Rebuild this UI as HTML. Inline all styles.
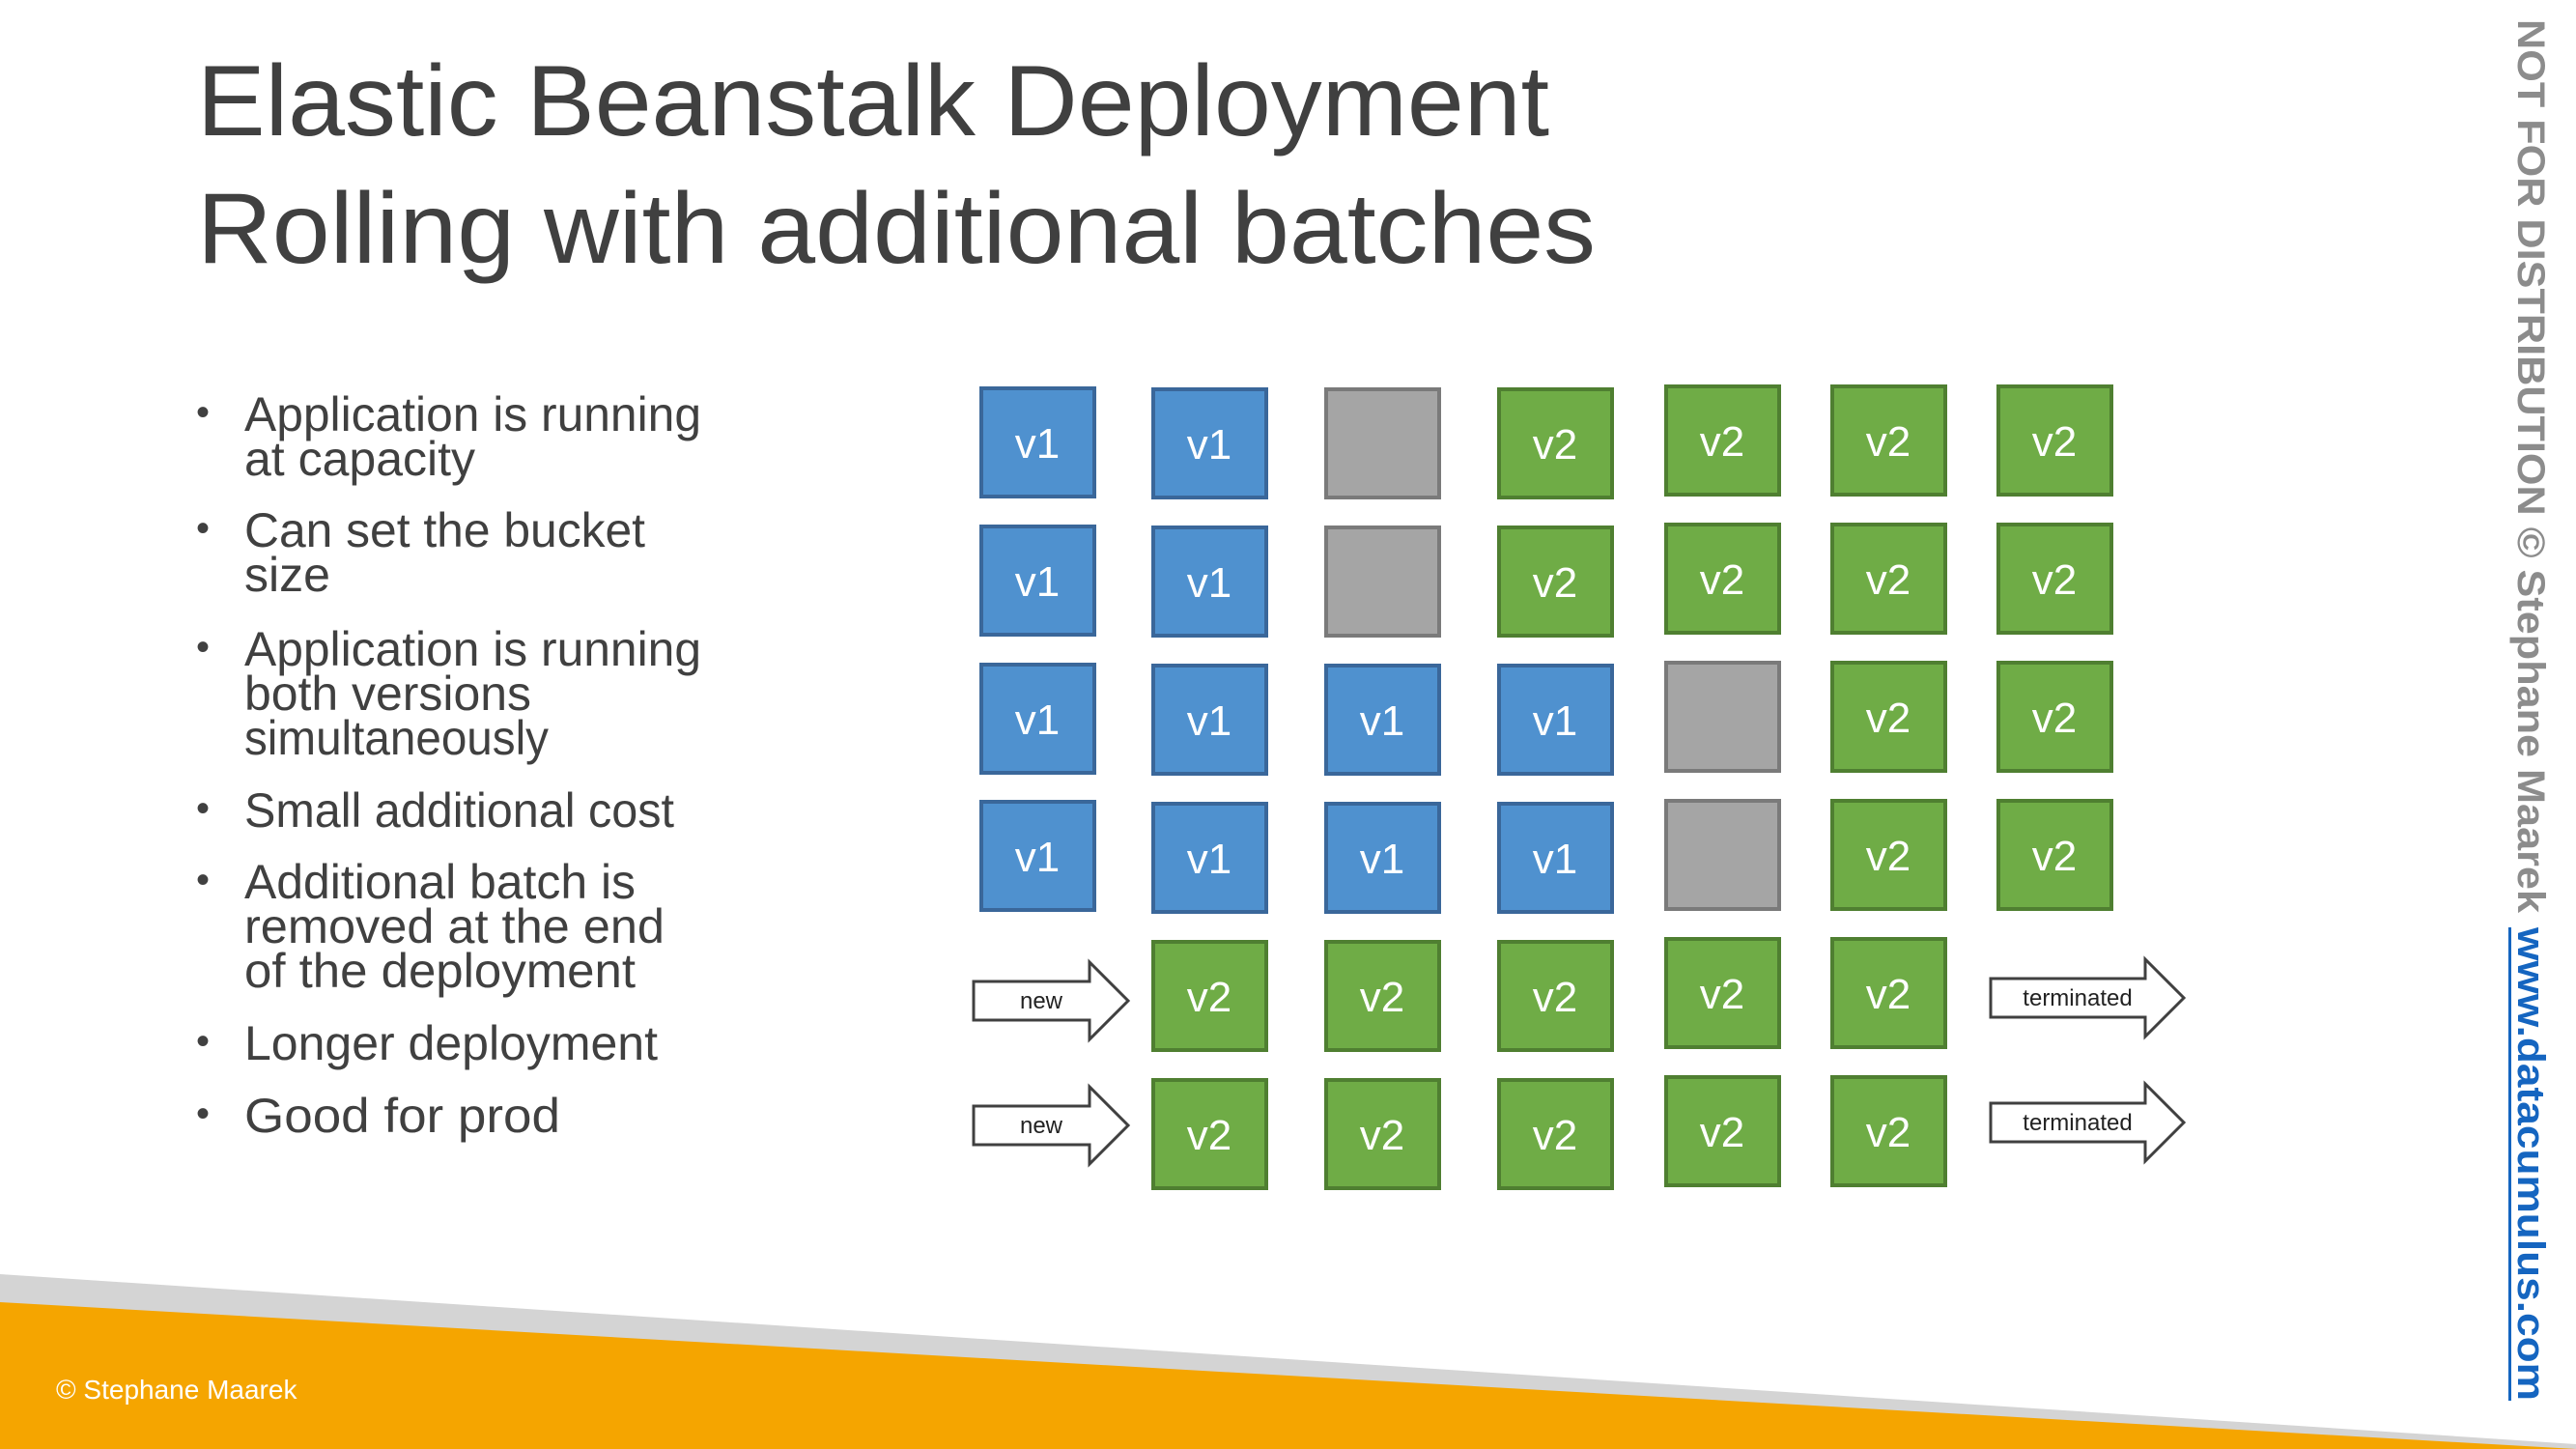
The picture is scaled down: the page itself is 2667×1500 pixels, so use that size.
<!DOCTYPE html>
<html><head><meta charset="utf-8"><style>
html,body{margin:0;padding:0;background:#fff}
svg{display:block}
</style></head><body>
<svg width="2667" height="1500" viewBox="0 0 2667 1500" xmlns="http://www.w3.org/2000/svg" font-family="Liberation Sans, sans-serif">
<rect width="2667" height="1500" fill="#fff"/>
<polygon points="0,1319 2667,1495 2667,1500 0,1500" fill="#d4d4d4"/>
<polygon points="0,1348 2667,1500 0,1500" fill="#f5a500"/>
<text x="58" y="1448" font-size="28" fill="#fff">© Stephane Maarek</text>

<g fill="#404040" font-size="104">
<text x="204" y="140" textLength="1400" lengthAdjust="spacingAndGlyphs">Elastic Beanstalk Deployment</text>
<text x="204" y="272" textLength="1448" lengthAdjust="spacingAndGlyphs">Rolling with additional batches</text>
</g>

<g fill="#404040" font-size="50">
<g font-size="40"><text x="203" y="440">•</text><text x="203" y="560">•</text><text x="203" y="683">•</text><text x="203" y="850">•</text><text x="203" y="924">•</text><text x="203" y="1091">•</text><text x="203" y="1166">•</text></g>
<text x="253" y="446" textLength="473" lengthAdjust="spacingAndGlyphs">Application is running</text>
<text x="253" y="492">at  capacity</text>
<text x="253" y="566" textLength="415" lengthAdjust="spacingAndGlyphs">Can set the bucket</text>
<text x="253" y="612">size</text>
<text x="253" y="689" textLength="473" lengthAdjust="spacingAndGlyphs">Application is running</text>
<text x="253" y="735" textLength="297" lengthAdjust="spacingAndGlyphs">both versions</text>
<text x="253" y="781" textLength="315" lengthAdjust="spacingAndGlyphs">simultaneously</text>
<text x="253" y="856" textLength="445" lengthAdjust="spacingAndGlyphs">Small additional cost</text>
<text x="253" y="930" textLength="405" lengthAdjust="spacingAndGlyphs">Additional batch is</text>
<text x="253" y="976" textLength="435" lengthAdjust="spacingAndGlyphs">removed at the end</text>
<text x="253" y="1022" textLength="405" lengthAdjust="spacingAndGlyphs">of the deployment</text>
<text x="253" y="1097" textLength="428" lengthAdjust="spacingAndGlyphs">Longer deployment</text>
<text x="253" y="1172" textLength="327" lengthAdjust="spacingAndGlyphs">Good for prod</text>
</g>

<defs>
<g id="b"><rect x="2" y="2" width="117" height="112" fill="#4f91cf" stroke="#3a679a" stroke-width="4"/><text x="60" y="74" font-size="44" fill="#fff" text-anchor="middle">v1</text></g>
<g id="g"><rect x="2" y="2" width="117" height="112" fill="#6fac46" stroke="#4f7f31" stroke-width="4"/><text x="60" y="74" font-size="44" fill="#fff" text-anchor="middle">v2</text></g>
<g id="x"><rect x="2" y="2" width="117" height="112" fill="#a5a5a5" stroke="#7a7a7a" stroke-width="4"/></g>
</defs>
<!-- col1 -->
<use href="#b" x="1014" y="400"/><use href="#b" x="1014" y="543"/><use href="#b" x="1014" y="686"/><use href="#b" x="1014" y="828"/>
<!-- col2 -->
<use href="#b" x="1192" y="401"/><use href="#b" x="1192" y="544"/><use href="#b" x="1192" y="687"/><use href="#b" x="1192" y="830"/><use href="#g" x="1192" y="973"/><use href="#g" x="1192" y="1116"/>
<!-- col3 -->
<use href="#x" x="1371" y="401"/><use href="#x" x="1371" y="544"/><use href="#b" x="1371" y="687"/><use href="#b" x="1371" y="830"/><use href="#g" x="1371" y="973"/><use href="#g" x="1371" y="1116"/>
<!-- col4 -->
<use href="#g" x="1550" y="401"/><use href="#g" x="1550" y="544"/><use href="#b" x="1550" y="687"/><use href="#b" x="1550" y="830"/><use href="#g" x="1550" y="973"/><use href="#g" x="1550" y="1116"/>
<!-- col5 -->
<use href="#g" x="1723" y="398"/><use href="#g" x="1723" y="541"/><use href="#x" x="1723" y="684"/><use href="#x" x="1723" y="827"/><use href="#g" x="1723" y="970"/><use href="#g" x="1723" y="1113"/>
<!-- col6 -->
<use href="#g" x="1895" y="398"/><use href="#g" x="1895" y="541"/><use href="#g" x="1895" y="684"/><use href="#g" x="1895" y="827"/><use href="#g" x="1895" y="970"/><use href="#g" x="1895" y="1113"/>
<!-- col7 -->
<use href="#g" x="2067" y="398"/><use href="#g" x="2067" y="541"/><use href="#g" x="2067" y="684"/><use href="#g" x="2067" y="827"/>

<g fill="#fff" stroke="#404040" stroke-width="3">
<polygon points="1008,1016 1128,1016 1128,996 1168,1036 1128,1076 1128,1056 1008,1056"/>
<polygon points="1008,1145 1128,1145 1128,1125 1168,1165 1128,1205 1128,1185 1008,1185"/>
<polygon points="2061,1013 2221,1013 2221,993 2261,1033 2221,1073 2221,1053 2061,1053"/>
<polygon points="2061,1142 2221,1142 2221,1122 2261,1162 2221,1202 2221,1182 2061,1182"/>
</g>
<g font-size="24" fill="#222" text-anchor="middle">
<text x="1078" y="1044">new</text><text x="1078" y="1173">new</text>
<text x="2151" y="1041">terminated</text><text x="2151" y="1170">terminated</text>
</g>

<g transform="translate(2607,20) rotate(90)" font-size="40" font-weight="bold">
<text x="0" y="0" fill="#8c8c8c" textLength="925" lengthAdjust="spacingAndGlyphs">NOT FOR DISTRIBUTION © Stephane Maarek</text>
<text x="940" y="0" fill="#1565c0" textLength="490" lengthAdjust="spacingAndGlyphs">www.datacumulus.com</text>
<rect x="940" y="7" width="490" height="3" fill="#1565c0"/>
</g>
</svg>
</body></html>
